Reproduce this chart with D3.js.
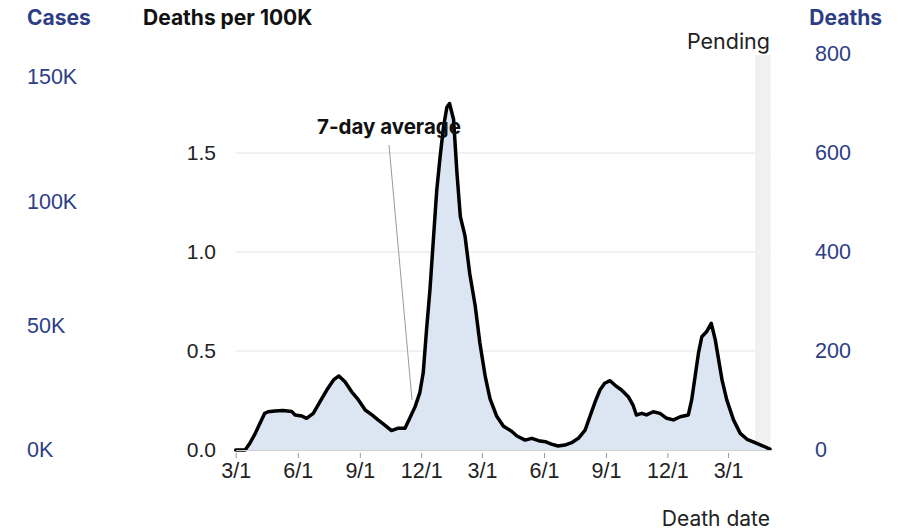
<!DOCTYPE html>
<html><head><meta charset="utf-8">
<script src="https://cdn.jsdelivr.net/npm/d3@7"></script>
<style>
body{margin:0;background:#fff}
svg{display:block;font-family:Inter,"Helvetica Neue",Arial,sans-serif}
</style>
</head><body>
<svg id="chart" width="910" height="530"></svg>
<script>
// ---- data (7-day average deaths per 100K) ----
const dates = [
"2020-03-01","2020-03-15","2020-03-22","2020-03-30","2020-04-06","2020-04-13","2020-04-18","2020-04-28",
"2020-05-10","2020-05-23","2020-05-28","2020-06-07","2020-06-14","2020-06-24","2020-07-04","2020-07-14",
"2020-07-24","2020-08-01","2020-08-10","2020-08-20","2020-08-30","2020-09-09","2020-09-19","2020-09-28",
"2020-10-08","2020-10-18","2020-10-28","2020-11-07","2020-11-14","2020-11-22","2020-11-29","2020-12-04",
"2020-12-09","2020-12-14","2020-12-19","2020-12-24","2020-12-29","2021-01-03","2021-01-08","2021-01-12",
"2021-01-18","2021-01-23","2021-01-28","2021-02-04","2021-02-11","2021-02-19","2021-02-26","2021-03-06",
"2021-03-13","2021-03-23","2021-04-02","2021-04-14","2021-04-22","2021-05-04","2021-05-14","2021-05-24",
"2021-06-03","2021-06-12","2021-06-22","2021-07-02","2021-07-12","2021-07-22","2021-08-01","2021-08-08",
"2021-08-16","2021-08-23","2021-08-30","2021-09-07","2021-09-14","2021-09-24","2021-10-04","2021-10-11",
"2021-10-16","2021-10-24","2021-10-31","2021-11-10","2021-11-20","2021-11-30","2021-12-10","2021-12-20",
"2022-01-01","2022-01-06","2022-01-11","2022-01-16","2022-01-21","2022-01-28","2022-02-04","2022-02-10",
"2022-02-15","2022-02-20","2022-02-27","2022-03-09","2022-03-19","2022-03-29","2022-04-10","2022-04-22",
"2022-05-02"];
const deathsPer100k = [
0.0,0.0,0.034,0.084,0.135,0.185,0.193,0.197,
0.200,0.195,0.177,0.172,0.160,0.185,0.244,0.303,
0.354,0.374,0.345,0.294,0.253,0.202,0.177,0.152,
0.126,0.098,0.110,0.110,0.160,0.219,0.290,0.390,
0.610,0.810,1.060,1.310,1.480,1.630,1.730,1.750,
1.670,1.400,1.180,1.080,0.890,0.730,0.540,0.370,
0.260,0.170,0.120,0.095,0.071,0.050,0.059,0.047,
0.042,0.030,0.020,0.025,0.037,0.059,0.100,0.168,
0.244,0.303,0.337,0.350,0.328,0.303,0.269,0.227,
0.177,0.185,0.177,0.193,0.185,0.160,0.152,0.168,
0.177,0.253,0.370,0.488,0.572,0.597,0.640,0.556,
0.455,0.354,0.253,0.152,0.084,0.054,0.037,0.020,
0.004];
const xTickDates  = ["2020-03-01","2020-06-01","2020-09-01","2020-12-01","2021-03-01","2021-06-01","2021-09-01","2021-12-01","2022-03-01"];
const xTickLabels = ["3/1","6/1","9/1","12/1","3/1","6/1","9/1","12/1","3/1"];
const per100kTicks = [0, 0.5, 1.0, 1.5];
const per100kGrid = [0.5, 1.0, 1.5];
const deathTicks = [0, 200, 400, 600, 800];
const caseTicks = [0, 50000, 100000, 150000];
const xDomain = ["2020-03-01", "2022-05-03"];
const pendingStart = "2022-04-10";

// ---- chart ----
const parse = d3.timeParse("%Y-%m-%d");
const data = dates.map((d, i) => ({date: parse(d), v: deathsPer100k[i]}));
const svg = d3.select("#chart");
const navy = "#2d3d86";

const x = d3.scaleTime().domain(xDomain.map(parse)).range([235.7, 770.6]);
const y = d3.scaleLinear().domain([0, 2]).range([450, 54]);
const yDeaths = d3.scaleLinear().domain([0, 800]).range([450, 54]);
const yCases = d3.scaleLinear().domain([0, 159200]).range([450, 54]);

// gridlines
svg.append("g").selectAll("line").data(per100kGrid).join("line")
  .attr("x1", x.range()[0]).attr("x2", x.range()[1])
  .attr("y1", d => y(d)).attr("y2", d => y(d))
  .attr("stroke", "#e2e2e2").attr("stroke-width", 1);

// pending band
svg.append("rect")
  .attr("x", x(parse(pendingStart))).attr("width", x.range()[1] - x(parse(pendingStart)))
  .attr("y", 55).attr("height", 450 - 55)
  .attr("fill", "#f0f0f0");

// area + line
svg.append("path").datum(data)
  .attr("d", d3.area().x(d => x(d.date)).y0(y(0)).y1(d => y(d.v)))
  .attr("fill", "#dce6f2");
svg.append("path").datum(data)
  .attr("d", d3.line().x(d => x(d.date)).y(d => y(d.v)))
  .attr("fill", "none").attr("stroke", "#000").attr("stroke-width", 3.5)
  .attr("stroke-linejoin", "round").attr("stroke-linecap", "round");

// x axis
const xAxis = d3.axisBottom(x)
  .tickValues(xTickDates.map(parse))
  .tickFormat((d, i) => xTickLabels[i])
  .tickSizeInner(8).tickSizeOuter(0).tickPadding(5);
const gx = svg.append("g").attr("transform", "translate(0,450)").call(xAxis);
gx.select(".domain").attr("stroke", "#cfcfcf");
gx.selectAll(".tick line").attr("stroke", "#999").attr("y1", 3);
gx.selectAll(".tick text").attr("font-size", 21.5).attr("fill", "#222").attr("font-family", null);

// left axis (deaths per 100K)
const gl = svg.append("g").attr("transform", "translate(235,0)")
  .call(d3.axisLeft(y).tickValues(per100kTicks).tickFormat(d3.format(".1f")).tickSize(0).tickPadding(19));
gl.select(".domain").remove();
gl.selectAll("text").attr("font-size", 21).attr("fill", "#222").attr("font-family", null);

// right axis (deaths)
const gr = svg.append("g").attr("transform", "translate(815,0)")
  .call(d3.axisRight(yDeaths).tickValues(deathTicks).tickFormat(d3.format("d")).tickSize(0).tickPadding(0));
gr.select(".domain").remove();
gr.selectAll("text").attr("font-size", 21.5).attr("fill", navy).attr("font-family", null);

// cases axis (far left)
const gc = svg.append("g").attr("transform", "translate(27,0)")
  .call(d3.axisRight(yCases).tickValues(caseTicks).tickFormat(d => (d / 1000) + "K").tickSize(0).tickPadding(0));
gc.select(".domain").remove();
gc.selectAll("text").attr("font-size", 21.5).attr("fill", navy).attr("font-family", null);

// headers
svg.append("text").attr("x", 27).attr("y", 25).attr("font-size", 21).attr("font-weight", 700)
  .attr("fill", navy).text("Cases");
svg.append("text").attr("x", 143).attr("y", 25).attr("font-size", 21).attr("font-weight", 700)
  .attr("fill", "#111").text("Deaths per 100K");
svg.append("text").attr("x", 882).attr("y", 25).attr("text-anchor", "end").attr("font-size", 21).attr("font-weight", 700)
  .attr("fill", navy).text("Deaths");
svg.append("text").attr("x", 770).attr("y", 49).attr("text-anchor", "end").attr("font-size", 21.5)
  .attr("fill", "#222").text("Pending");
svg.append("text").attr("x", 770).attr("y", 526).attr("text-anchor", "end").attr("font-size", 21)
  .attr("fill", "#222").text("Death date");

// annotation
svg.append("line").attr("x1", 389).attr("y1", 145).attr("x2", 412).attr("y2", 400)
  .attr("stroke", "#999").attr("stroke-width", 1);
svg.append("text").attr("x", 389).attr("y", 134).attr("text-anchor", "middle").attr("font-size", 20.5).attr("font-weight", 700)
  .attr("fill", "#111").text("7-day average");
</script>
</body></html>
